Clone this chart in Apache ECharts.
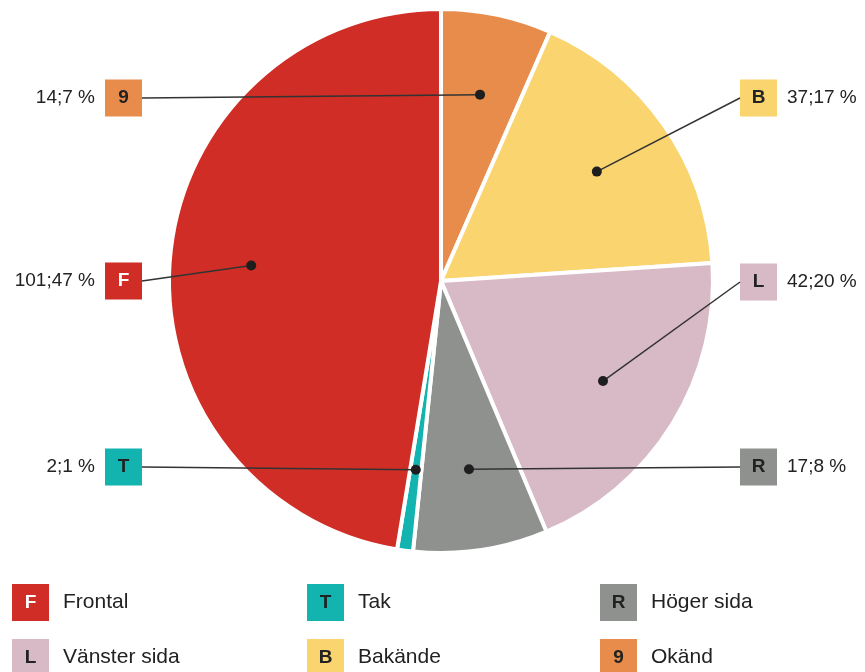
<!DOCTYPE html>
<html><head><meta charset="utf-8">
<script src="https://cdn.jsdelivr.net/npm/echarts@6/dist/echarts.min.js"></script>
<style>html,body{margin:0;padding:0;background:#fff}#c{width:865px;height:672px}</style>
</head><body><div id="c"></div><script>
// ---- data ----
const names   = ['Okänd', 'Bakände', 'Vänster sida', 'Höger sida', 'Tak', 'Frontal'];
const letters = ['9', 'B', 'L', 'R', 'T', 'F'];
const counts  = [14, 37, 42, 17, 2, 101];
const percents = [7, 17, 20, 8, 1, 47];
const legendOrder = ['Frontal', 'Tak', 'Höger sida', 'Vänster sida', 'Bakände', 'Okänd'];

// ---- style / layout ----
const colors = ['#E78C4A', '#F9D46F', '#D8BAC7', '#8F918F', '#13B3B0', '#CF2D26'];
const letterColors = ['#222', '#222', '#222', '#222', '#222', '#fff'];
const labelSide = ['left', 'right', 'right', 'right', 'left', 'left'];
const labelY = [98, 98, 282, 467, 467, 281];
const legendLeft = [7, 302, 595];
const legendTop = [584, 639];
const FONT = '"Liberation Sans", Arial, Helvetica, sans-serif';
const CX = 441, CY = 281, R = 272, DOT_FRAC = 0.7;
const LEFT_X = 142, RIGHT_X = 740;
const total = counts.reduce((a, b) => a + b, 0);

const boxStyles = {};
names.forEach((n, i) => {
  boxStyles['b' + i] = {
    width: 37, height: 37, lineHeight: 37, align: 'center',
    backgroundColor: colors[i], color: letterColors[i],
    fontSize: 19, fontWeight: 'bold', fontFamily: FONT
  };
});
const labelRich = Object.assign({
  v: { fontSize: 19, color: '#222', fontFamily: FONT },
  g: { width: 10 }
}, boxStyles);
const legendRich = Object.assign({
  g2: { width: 14 },
  n: { fontSize: 21, color: '#222', fontFamily: FONT, align: 'left' }
}, boxStyles);

const pieData = names.map((n, i) => ({ name: n, value: counts[i], itemStyle: { color: colors[i] } }));

// mid angle (in value units) of each slice, for the leader dots
const midValues = [];
let cum = 0;
counts.forEach(v => { midValues.push(cum + v / 2); cum += v; });
const dotData = names.map((n, i) => [DOT_FRAC, midValues[i], i]);

const legends = legendOrder.map((name, k) => ({
  data: [name],
  orient: 'horizontal',
  left: legendLeft[k % 3],
  top: legendTop[Math.floor(k / 3)],
  icon: 'none', itemWidth: 0, itemHeight: 37, itemGap: 0, padding: 0,
  selectedMode: false,
  formatter: nm => {
    const i = names.indexOf(nm);
    return '{b' + i + '|' + letters[i] + '}{g2| }{n|' + nm + '}';
  },
  textStyle: { rich: legendRich }
}));

const hiddenAxis = { show: false, axisLine: { show: false }, axisTick: { show: false }, axisLabel: { show: false }, splitLine: { show: false } };

const option = {
  animation: false,
  backgroundColor: '#fff',
  legend: legends,
  polar: { center: [CX, CY], radius: R },
  angleAxis: Object.assign({ type: 'value', min: 0, max: total, startAngle: 90, clockwise: true }, hiddenAxis),
  radiusAxis: Object.assign({ type: 'value', min: 0, max: 1 }, hiddenAxis),
  series: [
    {
      type: 'pie',
      center: [CX, CY],
      radius: [0, R],
      startAngle: 90,
      clockwise: true,
      avoidLabelOverlap: false,
      emphasis: { scale: false },
      itemStyle: { borderColor: '#fff', borderWidth: 4 },
      data: pieData,
      label: {
        show: true,
        position: 'outside',
        formatter: p => {
          const i = p.dataIndex;
          const txt = counts[i] + ';' + percents[i] + ' %';
          const box = '{b' + i + '|' + letters[i] + '}';
          return labelSide[i] === 'left'
            ? '{v|' + txt + '}{g| }' + box
            : box + '{g| }{v|' + txt + '}';
        },
        rich: labelRich
      },
      labelLine: { show: false },
      labelLayout: p => {
        const i = p.dataIndex;
        const left = labelSide[i] === 'left';
        return { x: left ? LEFT_X : RIGHT_X, y: labelY[i], align: left ? 'right' : 'left', verticalAlign: 'middle' };
      }
    },
    {
      type: 'custom',
      coordinateSystem: 'polar',
      silent: true,
      z: 5,
      data: dotData,
      renderItem: (params, api) => {
        const i = api.value(2);
        const pt = api.coord([api.value(0), api.value(1)]);
        const anchor = [labelSide[i] === 'left' ? LEFT_X : RIGHT_X, labelY[i]];
        return {
          type: 'group',
          children: [
            { type: 'polyline', shape: { points: [pt, anchor] }, style: { stroke: '#333', lineWidth: 1.5, fill: null } },
            { type: 'circle', shape: { cx: pt[0], cy: pt[1], r: 5 }, style: { fill: '#1e1e1e' } }
          ]
        };
      }
    }
  ]
};
echarts.init(document.getElementById('c')).setOption(option);
</script></body></html>
